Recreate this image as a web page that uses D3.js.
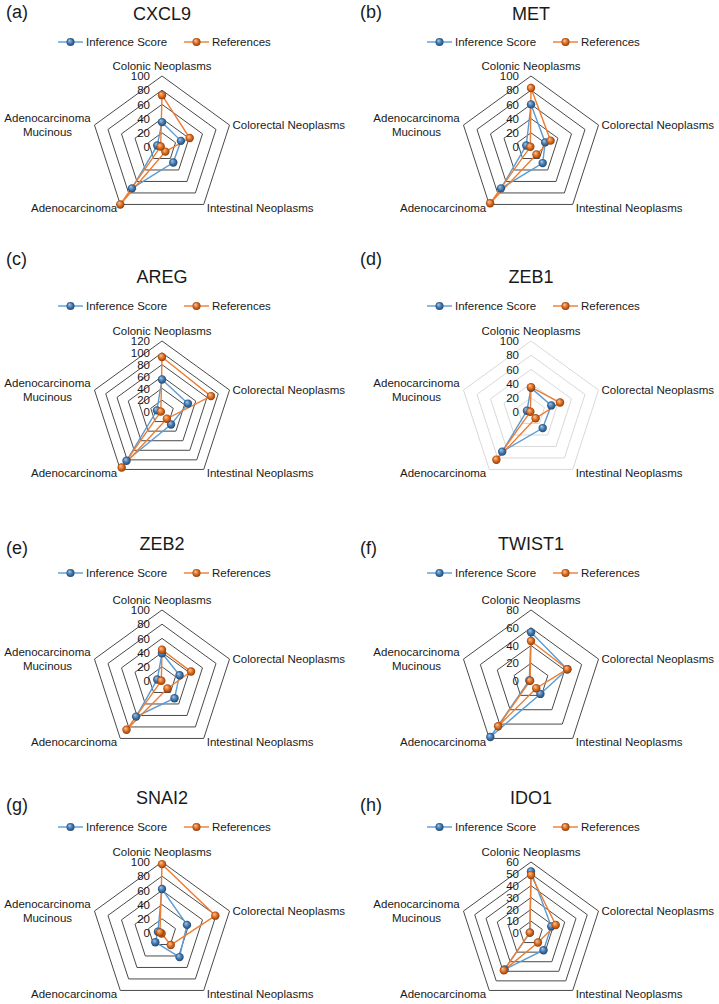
<!DOCTYPE html>
<html>
<head>
<meta charset="utf-8">
<script src="https://cdnjs.cloudflare.com/ajax/libs/d3/7.8.5/d3.min.js"></script>
<style>
  body { margin: 0; background: #fff; }
  svg text { font-family: "Liberation Sans", Arial, sans-serif; fill: #1a1a1a; }
</style>
</head>
<body>
<div id="chart"></div>
<script>
// categories (radar axes, clockwise from top)
var categories = ["Colonic Neoplasms", "Colorectal Neoplasms", "Intestinal Neoplasms", "Adenocarcinoma", "Adenocarcinoma Mucinous"];
var genes = ["CXCL9", "MET", "AREG", "ZEB1", "ZEB2", "TWIST1", "SNAI2", "IDO1"];
var panelLetters = ["(a)", "(b)", "(c)", "(d)", "(e)", "(f)", "(g)", "(h)"];
var axisMax = [100, 100, 120, 100, 100, 80, 100, 60];
var tickStep = [20, 20, 20, 20, 20, 20, 20, 10];
var seriesNames = ["Inference Score", "References"];

// values per gene, in category order
var inferenceScore = [
    [35, 28, 27, 72, 7],
    [60, 21, 28, 72, 7],
    [55, 46, 26, 102, 9],
    [34, 30, 28, 69, 6],
    [39, 26, 30, 62, 7],
    [55, 43, 18, 78, 2],
    [62, 37, 42, 16, 6],
    [52, 18, 18, 38, 1]
];
var references = [
    [73, 41, 8, 100, 2],
    [83, 29, 13, 98, 1],
    [93, 87, 14, 116, 2],
    [35, 43, 11, 83, 1],
    [44, 43, 13, 85, 1],
    [45, 43, 10, 63, 1],
    [97, 79, 21, 1, 3],
    [49, 22, 10, 39, 1]
];

var svgWidth = 719;
var svgHeight = 1004;
var R = 71;

var colX = [162, 531];
var rows = [
    {cy: 147, titleY: 14, legendY: 42, letterY: 12},
    {cy: 412, titleY: 277, legendY: 306, letterY: 259},
    {cy: 681, titleY: 544, legendY: 573, letterY: 548},
    {cy: 933, titleY: 798, legendY: 827, letterY: 805}
];
var letterX = [6, 360];

var lineColors = ["#5b9bd5", "#ed7d31"];

var svg = d3.select("#chart").append("svg")
    .attr("width", svgWidth)
    .attr("height", svgHeight);

// sphere-like markers
var defs = svg.append("defs");
function sphere(id, light, mid, dark) {
    var g = defs.append("radialGradient").attr("id", id)
        .attr("cx", "50%").attr("cy", "50%").attr("r", "55%")
        .attr("fx", "35%").attr("fy", "30%");
    g.append("stop").attr("offset", "0%").attr("stop-color", light);
    g.append("stop").attr("offset", "55%").attr("stop-color", mid);
    g.append("stop").attr("offset", "100%").attr("stop-color", dark);
}
sphere("gradBlue", "#a9c8e8", "#3f76ad", "#1d4166");
sphere("gradOrange", "#f9c79e", "#de6a1c", "#7a350a");
var markerFill = ["url(#gradBlue)", "url(#gradOrange)"];

var angle = d3.scaleLinear().domain([0, categories.length]).range([0, 2 * Math.PI]);

function drawPanel(p) {
    var cx = colX[p % 2];
    var row = rows[Math.floor(p / 2)];
    var cy = row.cy;
    var max = axisMax[p];
    var ticks = d3.range(0, max + tickStep[p] / 2, tickStep[p]);
    var r = d3.scaleLinear().domain([0, max]).range([0, R]);
    var gridColor = genes[p] === "ZEB1" ? "#d9d9d9" : "#4a4a4a";

    // panel letter and title
    svg.append("text")
        .attr("x", letterX[p % 2]).attr("y", row.letterY)
        .attr("dominant-baseline", "central")
        .style("font-size", "18px")
        .text(panelLetters[p]);
    svg.append("text")
        .attr("x", cx).attr("y", row.titleY)
        .attr("text-anchor", "middle")
        .attr("dominant-baseline", "central")
        .style("font-size", "18px")
        .text(genes[p]);

    // legend
    var leg = svg.append("g").attr("transform", `translate(${cx}, ${row.legendY})`);
    var legX = [-104, 22];
    seriesNames.forEach(function(name, s) {
        leg.append("line")
            .attr("x1", legX[s]).attr("x2", legX[s] + 25)
            .attr("y1", 0).attr("y2", 0)
            .attr("stroke", lineColors[s]).attr("stroke-width", 1.4);
        leg.append("circle")
            .attr("cx", legX[s] + 12.5).attr("cy", 0).attr("r", 4)
            .attr("fill", markerFill[s]);
        leg.append("text")
            .attr("x", legX[s] + 28).attr("y", 0)
            .attr("dominant-baseline", "central")
            .style("font-size", "11.5px")
            .text(name);
    });

    var chartGroup = svg.append("g").attr("transform", `translate(${cx}, ${cy})`);

    // pentagon grid
    var ring = d3.lineRadial()
        .angle(function(d, i) { return angle(i); })
        .radius(function(d) { return r(d); })
        .curve(d3.curveLinearClosed);
    chartGroup.selectAll(".grid")
        .data(ticks.slice(1))
        .enter()
        .append("path")
        .attr("d", function(t) { return ring(categories.map(function() { return t; })); })
        .attr("fill", "none")
        .attr("stroke", gridColor)
        .attr("stroke-width", 1);

    // value labels on the top axis
    var yAxisScale = d3.scaleLinear().domain([0, max]).range([0, -R]);
    var yAxis = chartGroup.append("g")
        .call(d3.axisLeft(yAxisScale).tickValues(ticks).tickSize(0).tickPadding(12));
    yAxis.select(".domain").remove();
    yAxis.selectAll("text")
        .attr("fill", "#1a1a1a")
        .style("font-size", "11.5px")
        .style("font-family", "'Liberation Sans', Arial, sans-serif");

    // category labels
    categories.forEach(function(cat, i) {
        var a = angle(i) - Math.PI / 2;
        var vx = Math.cos(a) * R;
        var vy = Math.sin(a) * R;
        var t = chartGroup.append("text")
            .style("font-size", "11.5px")
            .attr("dominant-baseline", "central");
        if (i === 0) {
            t.attr("x", 0).attr("y", vy - 10).attr("text-anchor", "middle").text(cat);
        } else if (i === 1) {
            t.attr("x", vx + 3).attr("y", vy).text(cat);
        } else if (i === 2) {
            t.attr("x", vx + 3).attr("y", vy + 4).text(cat);
        } else if (i === 3) {
            t.attr("x", vx - 3).attr("y", vy + 4).attr("text-anchor", "end").text(cat);
        } else {
            var words = cat.split(" ");
            t.attr("text-anchor", "middle");
            t.append("tspan").attr("x", vx - 47).attr("y", vy - 7).text(words[0]);
            t.append("tspan").attr("x", vx - 47).attr("y", vy + 7).text(words[1]);
        }
    });

    // series
    var seriesData = [inferenceScore[p], references[p]];
    var line = d3.lineRadial()
        .angle(function(d, i) { return angle(i); })
        .radius(function(d) { return r(d); })
        .curve(d3.curveLinearClosed);

    seriesData.forEach(function(vals, s) {
        chartGroup.append("path")
            .attr("d", line(vals))
            .attr("fill", "none")
            .attr("stroke", lineColors[s])
            .attr("stroke-width", 1.4);
    });
    seriesData.forEach(function(vals, s) {
        chartGroup.selectAll(".m" + s)
            .data(vals)
            .enter()
            .append("circle")
            .attr("cx", function(d, i) { return Math.cos(angle(i) - Math.PI / 2) * r(d); })
            .attr("cy", function(d, i) { return Math.sin(angle(i) - Math.PI / 2) * r(d); })
            .attr("r", 4.2)
            .attr("fill", markerFill[s]);
    });
}

genes.forEach(function(g, p) { drawPanel(p); });
</script>
</body>
</html>
